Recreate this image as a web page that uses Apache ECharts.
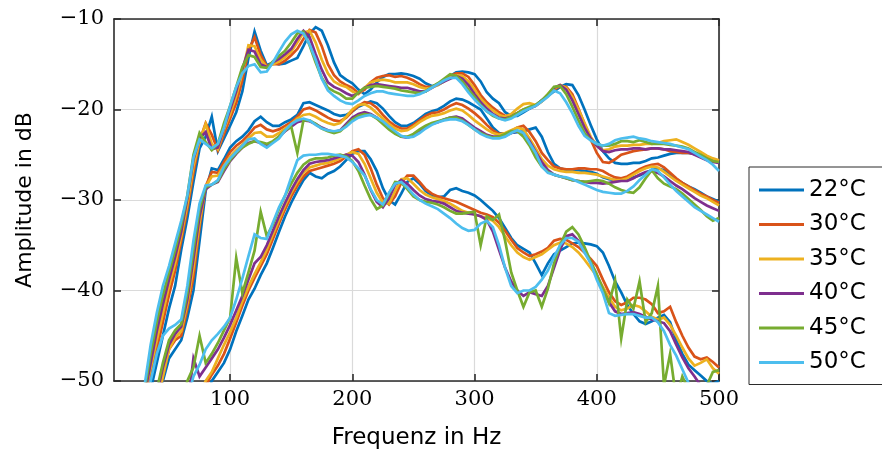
<!DOCTYPE html>
<html><head><meta charset="utf-8">
<script src="https://cdn.jsdelivr.net/npm/echarts@6/dist/echarts.min.js"></script>
<style>html,body{margin:0;padding:0;background:#fff}#c{width:882px;height:450px}</style>
</head><body><div id="c"></div>
<script>
const freq = [25,30,35,40,45,50,55,60,65,70, 75,80,85,90,95,100,105,110,115,120, 125,130,135,140,145,150,155,160,165,170, 175,180,185,190,195,200,205,210,215,220, 225,230,235,240,245,250,255,260,265,270, 275,280,285,290,295,300,305,310,315,320, 325,330,335,340,345,350,355,360,365,370, 375,380,385,390,395,400,405,410,415,420, 425,430,435,440,445,450,455,460,465,470, 475,480,485,490,495,500];
const temps = ['22°C','30°C','35°C','40°C','45°C','50°C'];
const colors = ['#0072BD','#D95319','#EDB120','#7E2F8E','#77AC30','#4DBEEE'];
const xTicks = [100,200,300,400,500];
const yTicks = [-50,-40,-30,-20,-10];

// upper group
const upper22 = [-55,-53,-51,-48,-45,-42,-39.5,-35.5,-32,-28, -24.3,-23,-20.8,-24.6,-23.2,-21.8,-20.3,-18,-14.3,-11.4, -13.5,-15.1,-14.8,-15,-14.9,-14.6,-14.3,-13,-11.6,-10.9, -11.3,-12.9,-14.8,-16.2,-16.7,-17.1,-17.8,-18.3,-17.8,-17, -16.4,-16.1,-16.1,-16,-16.1,-16.3,-16.6,-17.1,-17.4,-17.3, -16.9,-16.3,-15.9,-15.8,-15.9,-16.1,-16.9,-18.1,-18.8,-19.3, -20.3,-20.7,-20.7,-20.3,-19.9,-19.5,-19,-18.5,-18,-17.5, -17.2,-17.3,-18.4,-20,-21.7,-23.3,-24.6,-25.4,-25.9,-26, -26,-25.9,-25.9,-25.7,-25.4,-25.3,-25.1,-24.9,-24.8,-24.8, -24.8,-24.9,-25.1,-25.3,-25.6,-25.9];
const upper30 = [-54,-52,-49.5,-46.5,-43.5,-40.5,-37.8,-34.5,-31,-27, -23.5,-21.5,-22.8,-24.5,-22.7,-21,-19.3,-16.8,-13.5,-12, -14,-15.2,-15,-15,-14.6,-14,-13.3,-12.2,-11.2,-11.5, -13,-15,-16.2,-16.9,-17.3,-17.6,-18.2,-17.8,-17,-16.5, -16.3,-16.2,-16.4,-16.3,-16.5,-16.8,-17.2,-17.5,-17.5,-17.2, -16.8,-16.3,-16,-16,-16.4,-17.3,-18.4,-19.2,-19.8,-20.3, -20.7,-20.7,-20.4,-20,-19.8,-19.6,-19.1,-18.5,-17.8,-17.4, -17.5,-18.3,-19.9,-21.6,-23.3,-24.8,-25.8,-25.9,-25.5,-25, -24.8,-24.6,-24.5,-24.4,-24.3,-24.3,-24.4,-24.6,-24.7,-24.8, -24.8,-24.9,-25.1,-25.3,-25.5,-25.7];
const upper35 = [-54,-51.5,-48.5,-45.5,-42.5,-39.5,-37,-34,-30.5,-26.3, -23.5,-21.6,-23.8,-24.4,-22.2,-20.5,-18.5,-16,-12.9,-13, -14.5,-15.3,-15,-14.7,-14.2,-13.6,-12.6,-11.5,-11.3,-12.6, -14.5,-16,-16.9,-17.3,-17.5,-18,-18.3,-17.6,-17,-16.8, -16.7,-16.8,-17,-17,-17,-17.2,-17.5,-17.7,-17.6,-17.3, -16.9,-16.5,-16.2,-16.3,-16.9,-17.8,-18.8,-19.5,-20.1,-20.6, -20.8,-20.5,-19.9,-19.4,-19.3,-19.5,-19.1,-18.3,-17.7,-17.3, -17.6,-18.6,-20,-21.5,-23,-24,-24.5,-24.4,-24.1,-24, -24,-23.9,-23.9,-23.8,-23.8,-23.7,-23.5,-23.4,-23.3,-23.6, -23.9,-24.3,-24.7,-25.1,-25.4,-25.6];
const upper40 = [-53.5,-51.5,-48,-44.5,-41.5,-38.8,-36.3,-33.5,-29.8,-25.5, -23.2,-22.5,-24.4,-24.2,-22,-20,-18,-15.5,-13.4,-13.6, -15,-15.3,-14.8,-14.4,-13.9,-13.3,-12.2,-11.3,-12,-13.9, -15.6,-17,-17.5,-17.8,-18.2,-18.5,-18.2,-17.6,-17.3,-17.2, -17.3,-17.4,-17.5,-17.6,-17.6,-17.8,-18,-18,-17.6,-17.2, -16.9,-16.6,-16.3,-16.6,-17.3,-18.3,-19.2,-19.9,-20.5,-20.9, -21,-20.8,-20.4,-20.1,-19.9,-19.6,-19,-18.4,-17.6,-17.3, -17.8,-19,-20.5,-22,-23.2,-24,-24.6,-24.7,-24.5,-24.4, -24.4,-24.3,-24.3,-24.4,-24.3,-24.3,-24.4,-24.4,-24.5,-24.6, -24.7,-25,-25.3,-25.6,-25.8,-25.9];
const upper45 = [-53,-51,-47,-43.5,-40.5,-38,-35.5,-32.8,-29.5,-25, -22.6,-23.6,-24.5,-23.8,-21.5,-19.6,-17.5,-15.3,-14,-14.2, -15.3,-15.4,-14.7,-14.1,-13.5,-12.6,-11.6,-11.4,-12.9,-14.8, -16.5,-17.6,-18,-18.3,-18.8,-18.8,-18.1,-17.6,-17.5,-17.4, -17.5,-17.6,-17.7,-17.9,-18,-18.1,-18.2,-18,-17.5,-17.1, -16.6,-16.1,-16.3,-16.9,-17.8,-18.6,-19.5,-20.2,-20.7,-21, -21.1,-20.8,-20.4,-20,-19.7,-19.5,-19,-18.3,-17.5,-17.4, -18.3,-19.7,-21.2,-22.6,-23.4,-23.8,-24,-24,-23.8,-23.5, -23.5,-23.6,-23.4,-23.6,-23.8,-23.8,-23.8,-23.9,-24,-24.1, -24.3,-24.7,-25,-25.4,-25.7,-25.8];
const upper50 = [-53,-50.5,-46,-42.5,-39.5,-37.3,-34.8,-32.3,-29.5,-25.3, -23.3,-23.8,-24.3,-23.8,-22,-19.6,-17.5,-16,-15.2,-15, -15.9,-15.8,-14.8,-13.6,-12.5,-11.7,-11.3,-11.6,-12.8,-14.5, -16.6,-17.9,-18.5,-19,-19.3,-19.4,-19,-18.5,-18.2,-18, -18,-18.2,-18.3,-18.4,-18.5,-18.5,-18.3,-18,-17.6,-17.2, -16.8,-16.5,-16.5,-17.2,-18.1,-18.9,-19.6,-20.2,-20.6,-21, -21.2,-21,-20.6,-20.2,-19.9,-19.6,-19.1,-18.6,-17.9,-18.2, -19.2,-20.4,-21.8,-22.9,-23.4,-23.8,-24,-23.8,-23.4,-23.2, -23.1,-23,-23.2,-23.3,-23.5,-23.6,-23.7,-23.8,-24,-24.2, -24.4,-24.8,-25.2,-25.6,-26.1,-26.8];

// middle group
const middle22 = [-55,-55,-55,-53,-50,-47.5,-46.5,-45.5,-43,-40, -34.5,-29,-26.5,-26.7,-25.5,-24.2,-23.5,-23,-22.3,-21.3, -20.8,-21.4,-21.8,-21.8,-21.4,-21.1,-20.6,-19.3,-19.2,-19.5, -19.8,-20.1,-20.5,-20.7,-20.6,-20.2,-19.7,-19.4,-19.1,-19.3, -19.9,-20.7,-21.4,-21.8,-21.8,-21.5,-21,-20.5,-20.2,-20, -19.6,-19.1,-18.8,-18.9,-19.2,-19.6,-20,-21,-22,-22.6, -22.7,-22.6,-22.5,-22.4,-22.2,-22,-23,-24.7,-26,-26.5, -26.7,-26.7,-26.7,-26.8,-26.9,-27.1,-27.5,-27.7,-27.8,-27.8, -27.7,-27.5,-27.3,-27,-26.7,-26.5,-26.7,-27.2,-27.7,-28.1, -28.5,-28.8,-29.2,-29.6,-29.9,-30.2];
const middle30 = [-55,-55,-54.5,-53,-49.5,-46.5,-45.5,-45,-42,-38.5, -33,-28.5,-26.9,-27,-25.8,-24.7,-24,-23.5,-22.8,-22, -21.7,-22.2,-22.4,-22.2,-21.8,-21.4,-20.8,-20,-19.8,-20.1, -20.5,-20.9,-21.2,-21.3,-20.9,-20.2,-19.6,-19.2,-19.3,-19.8, -20.6,-21.3,-21.8,-22.1,-22.1,-21.7,-21.2,-20.7,-20.4,-20.3, -20,-19.6,-19.3,-19.5,-19.9,-20.4,-21,-21.7,-22.3,-22.7, -22.7,-22.4,-22,-21.8,-22.5,-23.5,-24.8,-25.6,-26.3,-26.5, -26.6,-26.6,-26.5,-26.5,-26.6,-26.6,-26.8,-27.2,-27.5,-27.6, -27.4,-27,-26.6,-26.3,-26.1,-26,-26.4,-27,-27.6,-28.1, -28.5,-28.9,-29.3,-29.6,-30,-30.3];
const middle35 = [-55,-55,-54,-52.5,-49.5,-46.5,-45.2,-44.5,-41.5,-37.5, -32.5,-28.5,-27.4,-27.3,-26.2,-25.2,-24.5,-23.9,-23.2,-22.6, -22.5,-23,-23,-22.6,-22.1,-21.6,-21,-20.6,-20.5,-20.8, -21.2,-21.5,-21.7,-21.5,-20.8,-20,-19.5,-19.4,-19.8,-20.4, -21,-21.6,-22.1,-22.4,-22.3,-21.9,-21.4,-21,-20.7,-20.6, -20.4,-20.1,-19.9,-20.1,-20.6,-21.2,-21.7,-22.2,-22.6,-22.8, -22.6,-22.3,-22,-22.2,-23.2,-24.3,-25.5,-26.2,-26.6,-26.8, -26.9,-26.9,-27,-27,-27.1,-27.2,-27.4,-27.6,-27.8,-27.8, -27.6,-27.2,-26.8,-26.5,-26.3,-26.4,-26.9,-27.4,-27.9,-28.3, -28.7,-29.1,-29.5,-29.8,-30.2,-30.6];
const middle40 = [-55,-55,-54,-51.5,-48.5,-46,-44.8,-44,-41,-36.5, -31.8,-28.8,-28.3,-28,-26.8,-25.7,-24.9,-24.2,-23.7,-23.5, -23.7,-23.9,-23.6,-23,-22.4,-21.9,-21.4,-21.2,-21.3,-21.6, -22,-22.3,-22.5,-22.3,-21.6,-20.9,-20.5,-20.3,-20.5,-20.9, -21.5,-22.1,-22.6,-23,-23.1,-22.9,-22.4,-21.9,-21.6,-21.4, -21.1,-20.9,-20.8,-21,-21.5,-22,-22.4,-22.8,-23,-23, -22.9,-22.6,-22.4,-22.7,-23.5,-24.7,-25.8,-26.7,-27.2,-27.4, -27.6,-27.8,-27.9,-28,-28.1,-28.1,-28.2,-28.1,-28,-27.9, -27.9,-27.6,-27.2,-26.9,-26.8,-27,-27.4,-27.9,-28.4,-28.8, -29.3,-29.8,-30.2,-30.6,-30.9,-31.2];
const middle45 = [-55,-55,-53.5,-51,-48,-45.5,-44.4,-43.7,-40.3,-35.5, -31,-28.6,-28.3,-27.9,-26.6,-25.6,-24.8,-24.2,-23.8,-23.5, -23.6,-23.8,-23.5,-23,-22.3,-21.9,-24.8,-21.2,-21.2,-21.6, -22.1,-22.4,-22.6,-22.4,-21.8,-21.1,-20.7,-20.5,-20.6,-21, -21.6,-22.2,-22.7,-23,-23,-22.7,-22.2,-21.8,-21.5,-21.3, -21.1,-20.9,-20.9,-21.2,-21.7,-22.2,-22.6,-22.9,-23.1,-23, -22.7,-22.4,-22.4,-23,-24,-25.3,-26.3,-26.9,-27.2,-27.4, -27.6,-27.8,-27.9,-28,-27.9,-27.8,-27.9,-28.2,-28.6,-28.9, -29.1,-29.2,-28.6,-27.6,-26.7,-27.6,-28.2,-28.5,-28.8,-29.3, -29.9,-30.5,-31.1,-31.8,-32.3,-32];
const middle50 = [-53,-52,-50,-47,-45,-44.2,-43.8,-43.2,-39.5,-34.5, -30.4,-28.4,-28.3,-27.8,-26.3,-25.4,-24.7,-24,-23.3,-23.2, -23.8,-24.2,-23.7,-23.2,-22.3,-21.6,-21.2,-21,-21.2,-21.7, -22.1,-22.3,-22.4,-22.3,-21.9,-21.3,-20.9,-20.7,-20.6,-20.9, -21.3,-21.9,-22.4,-22.9,-23.1,-23,-22.6,-22.1,-21.7,-21.4, -21.2,-21.1,-21.1,-21.3,-21.7,-22.2,-22.7,-23,-23.2,-23.2, -23,-22.6,-22.3,-22.6,-23.7,-24.8,-26.3,-27,-27.2,-27.4, -27.5,-27.7,-28,-28.3,-28.6,-28.9,-29.1,-29.2,-29.3,-29.3, -29,-28.5,-27.8,-27.2,-26.6,-26.8,-27.5,-28.3,-29,-29.6, -30.2,-30.8,-31.2,-31.6,-32,-32.4];

// lower group
const lower22 = [-55,-55,-55,-55,-55,-55,-55,-55,-55,-55, -53,-51.5,-50,-49,-48,-46.5,-44.5,-42.8,-41,-39.8, -38.3,-37,-35.3,-33.5,-31.8,-30.3,-29,-27.8,-27,-27.4, -27.6,-27.1,-26.8,-26.3,-25.6,-24.9,-24.6,-24.6,-25.5,-26.8, -28.7,-30,-30.5,-29.3,-28,-27.6,-28.2,-29,-29.5,-29.7, -29.6,-28.9,-28.7,-29,-29.2,-29.5,-30,-30.6,-31.2,-32, -33.1,-34.2,-35,-35.4,-35.8,-37,-38.3,-37,-36,-35.6, -35.2,-34.8,-34.7,-34.8,-34.9,-35.1,-35.8,-37.3,-39,-40.2, -41.6,-42.6,-43.4,-43.7,-43.4,-43,-42.7,-43.5,-45.5,-47, -48.2,-48.8,-49.4,-50,-50.3,-50];
const lower30 = [-55,-55,-55,-55,-55,-55,-55,-55,-55,-55, -53,-50.5,-49.3,-48.3,-47,-45.3,-43.5,-41.7,-40,-38.6, -37.3,-36,-34.3,-32.6,-31,-29.6,-28.4,-27.4,-26.8,-26.6, -26.4,-26.2,-26,-25.7,-25.2,-24.6,-24.4,-25,-26.5,-28.3, -29.8,-30.5,-29.6,-28.1,-27.3,-27.3,-28,-28.8,-29.3,-29.6, -29.8,-30,-30.2,-30.5,-30.8,-31.1,-31.4,-31.6,-31.9,-32.5, -33.4,-34.4,-35.3,-35.8,-36.2,-36,-35.7,-35.3,-34.5,-34.3, -34.4,-34.8,-35.2,-35.8,-36.5,-37.3,-38.8,-40.2,-41.2,-41.6, -41.3,-40.8,-40.8,-41,-41.5,-42.5,-42.3,-41.8,-43.5,-45, -46.3,-47.3,-47.6,-47.4,-47.9,-48.5];
const lower35 = [-55,-55,-55,-55,-55,-55,-55,-55,-55,-54, -51.5,-50,-49,-47.5,-46,-44.6,-43,-41.2,-39.6,-38.2, -36.9,-35.5,-33.8,-32.2,-30.6,-29.2,-28,-27,-26.4,-26.2, -26,-25.9,-25.7,-25.4,-25,-24.7,-24.9,-26,-27.6,-29.2, -30.3,-30.4,-29,-27.7,-27.6,-28.2,-28.9,-29.4,-29.7,-29.9, -30.1,-30.4,-30.8,-31.2,-31.4,-31.6,-31.8,-32,-32.3,-33, -34,-35,-35.8,-36.3,-36.6,-36.3,-36,-35.5,-35,-34.7, -34.8,-35.2,-35.8,-36.6,-37.5,-38.4,-39.6,-40.8,-41.8,-42.2, -42,-41.6,-41.8,-42.3,-42.9,-43.2,-43,-43.8,-45,-46.3, -47.5,-48.3,-48,-47.6,-48.6,-49.2];
const lower40 = [-55,-55,-55,-55,-55,-55,-55,-55,-53,-47.5, -49.5,-48.5,-47.5,-46.5,-45.2,-43.8,-42.2,-40.6,-38.8,-37, -36.3,-35,-33.4,-31.8,-30.3,-28.9,-27.7,-26.7,-26,-25.8, -25.7,-25.6,-25.4,-25.2,-25,-25.1,-25.8,-27.2,-28.9,-30.2, -30.8,-29.8,-28.3,-27.8,-28.2,-28.9,-29.5,-29.9,-30.1,-30.2, -30.4,-30.8,-31.2,-31.4,-31.5,-31.6,-31.8,-32.2,-33.5,-35.5, -37.5,-39,-40,-40.6,-40.2,-40.4,-40.6,-39.5,-37.5,-35.5, -34,-33.8,-34.5,-35.6,-36.9,-38.3,-39.9,-41.3,-42.3,-42.6, -42.5,-42.4,-42.6,-42.9,-43.2,-43.4,-43.6,-44.5,-46,-47.4, -48.6,-49.5,-50.5,-51,-50.6,-51.5];
const lower45 = [-55,-55,-55,-55,-55,-55,-55,-53,-50,-48.5, -45,-48,-47,-45.8,-44.4,-43,-36.4,-40.3,-38,-35.6, -31.3,-34,-32.7,-31,-29.5,-28.2,-27,-26.1,-25.6,-25.4, -25.4,-25.3,-25.1,-25,-25.2,-25.7,-26.8,-28.4,-29.9,-31, -30.6,-29.3,-28,-28.1,-28.8,-29.6,-30,-30.2,-30.3,-30.5, -30.8,-31.2,-31.5,-31.5,-31.4,-31.3,-35,-31.8,-32.2,-31.6, -34.5,-38,-40,-41.8,-40.2,-40,-41.8,-39.8,-37,-35, -33.5,-33,-33.8,-35.2,-36.8,-38.2,-39.8,-41.4,-38.9,-45.3, -41,-42,-39,-43.5,-42.5,-39.5,-50.5,-47,-52,-49.5, -51,-52,-51.5,-50.5,-49,-48.8];
const lower50 = [-55,-55,-55,-55,-55,-55,-55,-55,-52,-49.5, -48.2,-46.5,-45.5,-44.8,-44,-43,-41,-38.7,-36.2,-33.8, -34.2,-34.3,-32.5,-30.8,-29.5,-27.5,-25.6,-25.1,-25,-25, -24.9,-24.9,-25,-25.1,-25.3,-25.8,-26.5,-27.3,-28.8,-30, -30.5,-29.2,-28.2,-28,-28.6,-29.4,-30,-30.4,-30.7,-31, -31.5,-32,-32.6,-33.1,-33.4,-33.3,-32.6,-32.3,-33,-35, -37.5,-39.5,-40.3,-40,-40,-39.6,-38.8,-37.8,-36.3,-35, -34.2,-34.2,-34.6,-35.8,-37,-38.8,-40.3,-42.5,-42.8,-42.7, -42.6,-42.6,-42.8,-43,-43,-43.5,-44.5,-46,-47.2,-48.7, -50.2,-51.5,-52,-52,-52,-52];

const groups = [
  [upper22, middle22, lower22],
  [upper30, middle30, lower30],
  [upper35, middle35, lower35],
  [upper40, middle40, lower40],
  [upper45, middle45, lower45],
  [upper50, middle50, lower50]
];

const series = [];
temps.forEach((t, k) => {
  groups[k].forEach(vals => {
    series.push({
      name: t, type: 'line', xAxisIndex: 0, yAxisIndex: 0,
      data: freq.map((f, i) => [f, vals[i]]),
      symbol: 'none', showSymbol: false, clip: true, smooth: false,
      lineStyle: { width: 2.7, color: colors[k], join: 'miter' },
      itemStyle: { color: colors[k] },
      emphasis: { disabled: true }
    });
  });
});

const axisCol = '#2b2b2b';
const minusFmt = v => (v < 0 ? '\u2212' + Math.abs(v) : String(v));
const chart = echarts.init(document.getElementById('c'), null, { renderer: 'canvas' });
chart.setOption({
  animation: false,
  backgroundColor: '#fff',
  grid: { left: 114, right: 163, top: 19, bottom: 69, containLabel: false, outerBoundsMode: 'none' },
  legend: {
    data: temps, orient: 'vertical', left: 749, top: 167,
    icon: 'path://M0,0H45V3H0Z', symbolKeepAspect: true,
    itemWidth: 45, itemHeight: 24, itemGap: 10.5,
    padding: [11, 40, 10, 10],
    borderColor: axisCol, borderWidth: 1, backgroundColor: '#fff',
    textStyle: { fontFamily: 'DejaVu Sans', fontSize: 23, lineHeight: 24, color: '#000' },
    selectedMode: false
  },
  xAxis: [{
    type: 'value', min: 5, max: 500, position: 'bottom',
    name: 'Frequenz in Hz', nameLocation: 'middle', nameGap: 46,
    nameTextStyle: { fontFamily: 'DejaVu Sans', fontSize: 23, color: '#000' },
    axisLine: { show: true, lineStyle: { color: axisCol, width: 1.6 } },
    axisTick: { show: true, inside: true, length: 7, customValues: xTicks, lineStyle: { color: axisCol, width: 1.6 } },
    axisLabel: { show: true, customValues: xTicks, margin: 8, fontFamily: 'DejaVu Serif', fontSize: 21, color: '#000' },
    splitLine: { show: true, lineStyle: { color: '#dadada', width: 1.2 } }
  }, {
    type: 'value', min: 5, max: 500, position: 'top',
    axisLine: { show: true, onZero: false, lineStyle: { color: axisCol, width: 1.6 } },
    axisTick: { show: true, inside: true, length: 7, customValues: xTicks, lineStyle: { color: axisCol, width: 1.6 } },
    axisLabel: { show: false }, splitLine: { show: false }
  }],
  yAxis: [{
    type: 'value', min: -50, max: -10, interval: 10, position: 'left',
    name: 'Amplitude in dB', nameLocation: 'middle', nameGap: 78,
    nameTextStyle: { fontFamily: 'DejaVu Sans', fontSize: 22, color: '#000' },
    axisLine: { show: true, onZero: false, lineStyle: { color: axisCol, width: 1.6 } },
    axisTick: { show: true, inside: true, length: 7, lineStyle: { color: axisCol, width: 1.6 } },
    axisLabel: { show: true, margin: 10, fontFamily: 'DejaVu Serif', fontSize: 21, color: '#000', formatter: minusFmt },
    splitLine: { show: true, lineStyle: { color: '#dadada', width: 1.2 } }
  }, {
    type: 'value', min: -50, max: -10, interval: 10, position: 'right',
    axisLine: { show: true, onZero: false, lineStyle: { color: axisCol, width: 1.6 } },
    axisTick: { show: true, inside: true, length: 7, lineStyle: { color: axisCol, width: 1.6 } },
    axisLabel: { show: false }, splitLine: { show: false }
  }],
  series: series
});
</script></body></html>
